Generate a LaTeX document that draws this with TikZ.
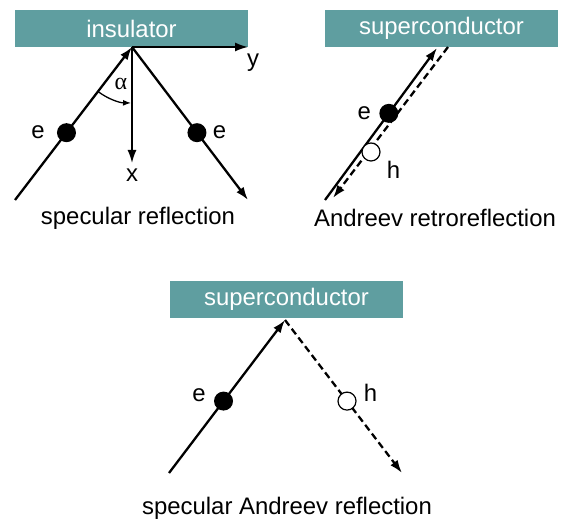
\documentclass[tikz,border=0pt]{standalone}
\usepackage{fontspec}
\setmainfont{Liberation Sans}
\newfontfamily\greekserif{Liberation Serif}
\usetikzlibrary{positioning,calc,arrows.meta}
\definecolor{barteal}{RGB}{95,158,160}
\tikzset{
	bar/.style={fill=barteal, text=white, minimum width=233bp, minimum height=37bp, inner sep=0pt},
	ray/.style={line width=2.3pt, ->},
	holeray/.style={ray, dash pattern=on 7bp off 4bp},
	edot/.style={circle, fill=black, minimum size=19bp, inner sep=0pt},
	hdot/.style={circle, draw=black, line width=1.2pt, fill=white, minimum size=18bp, inner sep=0pt},
	lbl/.style={inner sep=0pt}
}
\begin{document}
\begin{tikzpicture}[x=1bp, y=-1bp, >={Latex[length=13bp,width=9bp]},
	font=\fontsize{24}{28}\selectfont]
	\useasboundingbox (0,0) rectangle (564,521);
	
	% specular reflection
	\node[bar] (ins) at (131.5,28.5) {insulator};
	\coordinate (R1) at (132,47);
	\coordinate (A1) at (15,200);
	\coordinate (B1) at (248,200);
	\coordinate (Y1) at (248,47);
	\coordinate (X1) at (132,163);
	\draw[line width=1.6pt, ->] (R1) -- (Y1);
	\draw[line width=1.6pt, ->] (R1) -- (X1);
	\node[lbl, anchor=north] at ($(Y1)+(5,7)$) {y};
	\node[lbl, below=6bp of X1] {x};
	\draw[ray] (A1) -- (R1);
	\draw[ray] (R1) -- (B1);
	\node[edot] (e1) at ($(A1)!0.44!(R1)$) {};
	\node[edot] (e2) at ($(R1)!0.56!(B1)$) {};
	\node[lbl, left=12bp of e1] {e};
	\node[lbl, right=6bp of e2] {e};
	\draw[line width=1.3pt, ->, >={Latex[length=8bp,width=6bp]}] ([shift=(127.4:56)]R1) arc[start angle=127.4, end angle=91, radius=56];
	\node[lbl] at (121,84) {\greekserif α};
	\node at (138,218) {specular reflection};
	
	% Andreev retroreflection
	\node[bar] (sc1) at (441.5,28.5) {superconductor};
	\coordinate (A2) at (325,200);
	\coordinate (R2) at (437,48);
	\coordinate (R2h) at (448,47);
	\coordinate (B2) at (333,198);
	\draw[ray] (A2) -- (R2);
	\draw[holeray] (R2h) -- (B2);
	\node[edot] (e3) at ($(A2)!0.57!(R2)$) {};
	\node[hdot] (h1) at (371,152) {};
	\node[lbl, left=8bp of e3] {e};
	\node[lbl, below right=2bp and 9bp of h1] {h};
	\node at (435,218) {Andreev retroreflection};
	
	% specular Andreev reflection
	\node[bar] (sc2) at (286.5,299.5) {superconductor};
	\coordinate (R3) at (285,320);
	\coordinate (A3) at (169,473);
	\coordinate (B3) at (402,473);
	\draw[ray] (A3) -- (R3);
	\draw[holeray] (R3) -- (B3);
	\node[edot] (e4) at ($(A3)!0.47!(R3)$) {};
	\node[hdot] (h2) at ($(R3)!0.53!(B3)$) {};
	\node[lbl, left=8bp of e4, yshift=6bp] {e};
	\node[lbl, right=7bp of h2, yshift=8bp] {h};
	\node at (287,508) {specular Andreev reflection};
\end{tikzpicture}
\end{document}
